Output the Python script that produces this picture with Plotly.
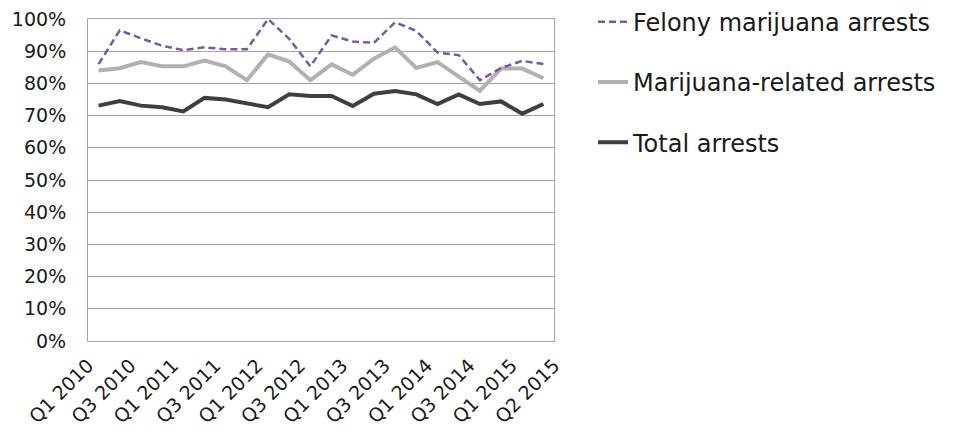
import plotly.graph_objects as go

# quarterly share of arrests, Q1 2010 .. Q2 2015 (22 quarters)
quarters = [f"Q{q} {y}" for y in range(2010, 2016) for q in (1, 2, 3, 4)][:22]
felony = [86, 96.5, 94, 91.7, 90.3, 91.2, 90.6, 90.6, 100, 93.8, 85.3,
          94.9, 93, 92.6, 99, 96.3, 89.6, 88.8, 81, 84.8, 87, 86]
marijuana = [84, 84.7, 86.6, 85.3, 85.3, 87.1, 85.3, 81, 89, 86.8, 81,
             85.9, 82.7, 87.7, 91.2, 84.8, 86.6, 82.3, 77.7, 84.6, 84.6, 81.6]
total = [73.1, 74.5, 73.1, 72.6, 71.3, 75.5, 75, 73.8, 72.6, 76.6, 76.1,
         76.1, 73, 76.8, 77.6, 76.6, 73.6, 76.6, 73.6, 74.4, 70.6, 73.6]
tick_labels = ["Q1 2010", "Q3 2010", "Q1 2011", "Q3 2011", "Q1 2012", "Q3 2012",
               "Q1 2013", "Q3 2013", "Q1 2014", "Q3 2014", "Q1 2015", "Q2 2015"]

FONT = "'DejaVu Sans', Verdana, sans-serif"
INK = "#1a1a1a"
GRID = "#a6a6a6"

# the page body keeps its default 8px margin, so the figure is sized to
# fill the 958x443 window from that offset
W, H = 950, 435

x = list(range(len(quarters)))
pct = lambda vals: [v / 100 for v in vals]

fig = go.Figure()
fig.add_trace(go.Scatter(x=x, y=pct(total), mode="lines", name="Total arrests",
                         line=dict(color="#3f3f3f", width=4), legendrank=3,
                         legendgroup="total", customdata=quarters))
fig.add_trace(go.Scatter(x=x, y=pct(marijuana), mode="lines",
                         name="Marijuana-related arrests",
                         line=dict(color="#b1b1b1", width=4), legendrank=2,
                         legendgroup="mj", customdata=quarters))
fig.add_trace(go.Scatter(x=x, y=pct(felony), mode="lines",
                         name="Felony marijuana arrests",
                         line=dict(color="#7a5a9c", width=2.5, dash="7px,4px"),
                         legendrank=1, legendgroup="felony", customdata=quarters))

# labels sit on category boundaries, one every two quarters
tickvals = [-0.5 + 2 * k for k in range(len(tick_labels))]

fig.update_layout(
    width=W, height=H,
    margin=dict(l=80, r=404, t=11, b=102, autoexpand=False),
    paper_bgcolor="white", plot_bgcolor="white",
    font=dict(family=FONT, color=INK, size=19),
    showlegend=True,
    legend=dict(xref="container", yref="paper",
                x=585 / W, xanchor="left", y=1.06, yanchor="top",
                traceorder="grouped", tracegroupgap=26,
                font=dict(size=24, color=INK), bgcolor="rgba(0,0,0,0)"),
    xaxis=dict(range=[-0.5, 21.5], tickvals=tickvals, ticktext=tick_labels,
               tickangle=-45, showgrid=False, zeroline=False,
               showline=True, linecolor=GRID, linewidth=1, mirror=True,
               ticks="", ticklabelstandoff=5, ticklabeloverflow="allow",
               tickfont=dict(size=19)),
    yaxis=dict(range=[0, 1], dtick=0.1, tickformat=".0%",
               showgrid=True, gridcolor=GRID, gridwidth=1, zeroline=False,
               showline=True, linecolor=GRID, linewidth=1, mirror=True,
               ticks="", ticklabelstandoff=17, ticklabeloverflow="allow",
               tickfont=dict(size=19)),
)

fig.write_html("out.html")
